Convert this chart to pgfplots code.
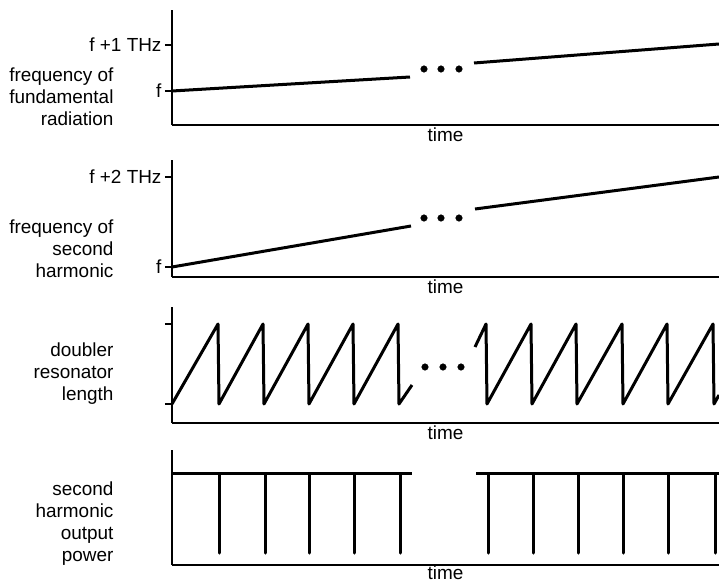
\documentclass[border=0pt]{standalone}
\usepackage{pgfplots}
\pgfplotsset{compat=1.18}
\usepackage{fontspec}
\setmainfont{Liberation Sans}

\pgfplotsset{
  ln/.style={black, line width=3bp, line join=round, mark=none},
  dt/.style={black, only marks, mark=*, mark size=3.3bp},
  panel/.style={
    scale only axis, width=547bp, xmin=0, xmax=547, ymin=0,
    axis lines*=left,
    axis line style={-, line width=2.6bp, black},
    xtick=\empty, clip=false,
    tick style={line width=2.6bp, black}, tick align=outside, major tick length=7bp,
    xlabel={time},
    xlabel style={at={(axis description cs:0.5,0)}, anchor=north, inner sep=0pt, yshift=-3bp},
    anchor=south west,
    font=\fontsize{19}{22}\selectfont,
    every tick label/.append style={font=\fontsize{19}{22}\selectfont},
  }
}

\begin{document}
\begin{tikzpicture}
\path[use as bounding box] (-172bp,0bp) rectangle (547bp,-584bp);

% panel 1
\begin{axis}[panel, at={(0bp,-125bp)}, height=115bp, ymax=115,
  ytick={34,80}, yticklabels={f, f +1 THz}]
\addplot[ln] coordinates {(0,34) (238,48)};
\addplot[ln] coordinates {(302,62) (547,81)};
\addplot[dt] coordinates {(252,56) (269,56) (287,56)};
\node[anchor=east, align=right] at (axis cs:-55,28) {frequency of\\fundamental\\radiation};
\end{axis}

% panel 2
\begin{axis}[panel, at={(0bp,-277bp)}, height=117bp, ymax=117,
  ytick={10,100}, yticklabels={f, f +2 THz}]
\addplot[ln] coordinates {(0,10) (239,51)};
\addplot[ln] coordinates {(303,68) (547,100)};
\addplot[dt] coordinates {(252,59) (269,59) (287,59)};
\node[anchor=east, align=right] at (axis cs:-55,28) {frequency of\\second\\harmonic};
\end{axis}

% panel 3
\begin{axis}[panel, at={(0bp,-423bp)}, height=116bp, ymax=116,
  ytick={19,99}, yticklabels={,}]
\addplot[ln] coordinates {(0,19) (46,99) (47,19) (91,99) (92,19) (136,99) (137,19)
  (181,99) (182,19) (226,99) (227,19) (240,38)};
\addplot[ln] coordinates {(303,76) (314,99) (315,19) (359,99) (360,19) (404,99) (405,19)
  (450,99) (451,19) (495,99) (496,19) (541,99) (542,19) (547,28)};
\addplot[dt] coordinates {(253,56) (271,56) (289,56)};
\node[anchor=east, align=right] at (axis cs:-55,49) {doubler\\resonator\\length};
\end{axis}

% panel 4
\begin{axis}[panel, at={(0bp,-565bp)}, height=115bp, ymax=115, ytick=\empty,
  xlabel style={yshift=2bp}]
\addplot[ln] coordinates {(0,92) (48,92) (48,12) (48,92) (93,92) (93,12) (93,92)
  (137,92) (137,12) (137,92) (182,92) (182,12) (182,92) (228,92) (228,12) (228,92) (240,92)};
\addplot[ln] coordinates {(304,92) (316,92) (316,12) (316,92) (361,92) (361,12) (361,92)
  (406,92) (406,12) (406,92) (451,92) (451,12) (451,92) (496,92) (496,12) (496,92)
  (543,92) (543,12) (543,92) (547,92)};
\node[anchor=east, align=right] at (axis cs:-55,41.5) {second\\harmonic\\output\\power};
\end{axis}
\end{tikzpicture}
\end{document}
